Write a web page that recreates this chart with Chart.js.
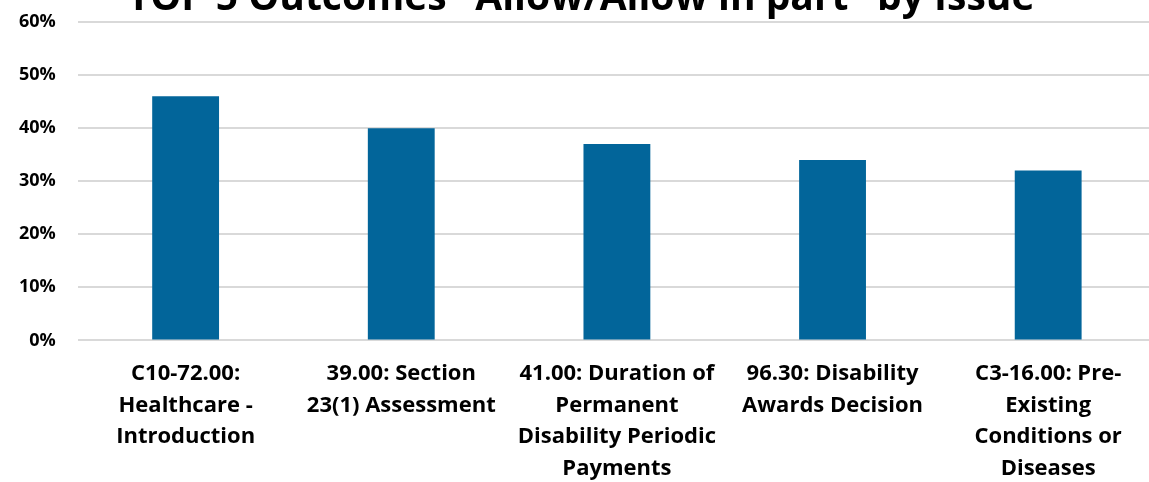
<!DOCTYPE html>
<html>
<head>
<meta charset="utf-8">
<script src="https://cdn.jsdelivr.net/npm/chart.js@4/dist/chart.umd.min.js"></script>
<style>
  html, body { margin: 0; padding: 0; background: #fff; overflow: hidden; }
  #wrap { width: 1157px; height: 482px; position: relative; }
</style>
</head>
<body>
<div id="wrap"><canvas id="issueChart"></canvas></div>
<script>
// ---- Datos ----
const chartTitle = 'TOP 5 Outcomes "Allow/Allow in part" by Issue';
const categories = [
  ['C10-72.00:', 'Healthcare -', 'Introduction'],
  ['39.00: Section', '23(1) Assessment'],
  ['41.00: Duration of', 'Permanent', 'Disability Periodic', 'Payments'],
  ['96.30: Disability', 'Awards Decision'],
  ['C3-16.00: Pre-', 'Existing', 'Conditions or', 'Diseases']
];
const allowPct = [46, 40, 37, 34, 32];
const yTicks = [0, 10, 20, 30, 40, 50, 60];

const BAR_BLUE = '#02659a';
const FONT = '"Open Sans", Lato, sans-serif';

// title is cut off at the top of the picture, draw it by hand
const titlePlugin = {
  id: 'cutTitle',
  afterDraw(chart) {
    const ctx = chart.ctx;
    ctx.save();
    ctx.font = 'bold 39px ' + FONT;
    ctx.fillStyle = '#000';
    ctx.textAlign = 'center';
    ctx.textBaseline = 'alphabetic';
    ctx.fillText(chartTitle, 581, 10);
    ctx.restore();
  }
};

new Chart(document.getElementById('issueChart'), {
  type: 'bar',
  data: {
    labels: categories,
    datasets: [{
      data: allowPct,
      backgroundColor: BAR_BLUE,
      borderWidth: 0,
      barPercentage: 0.31,
      categoryPercentage: 1
    }]
  },
  options: {
    responsive: true,
    maintainAspectRatio: false,
    animation: false,
    layout: { padding: { top: 0, left: -3, right: 1, bottom: -20 } },
    plugins: {
      legend: { display: false },
      tooltip: { enabled: false }
    },
    scales: {
      x: {
        grid: { display: false, drawTicks: false },
        border: { display: false },
        ticks: {
          color: '#000',
          padding: 17,
          maxRotation: 0,
          autoSkip: false,
          font: { family: FONT, size: 22, weight: 'bold', lineHeight: 1.45 }
        }
      },
      y: {
        min: 0,
        max: 60,
        afterBuildTicks: axis => { axis.ticks = yTicks.map(v => ({ value: v })); },
        // tick padding also pads the top, keep the top gridline high
        afterFit: axis => { axis.paddingTop = 22; },
        grid: { color: '#d9d9d9', lineWidth: 2, drawTicks: false },
        border: { display: false },
        ticks: {
          color: '#000',
          padding: 22,
          font: { family: FONT, size: 18, weight: 'bold' },
          callback: v => v + '%'
        }
      }
    }
  },
  plugins: [titlePlugin]
});
</script>
</body>
</html>
